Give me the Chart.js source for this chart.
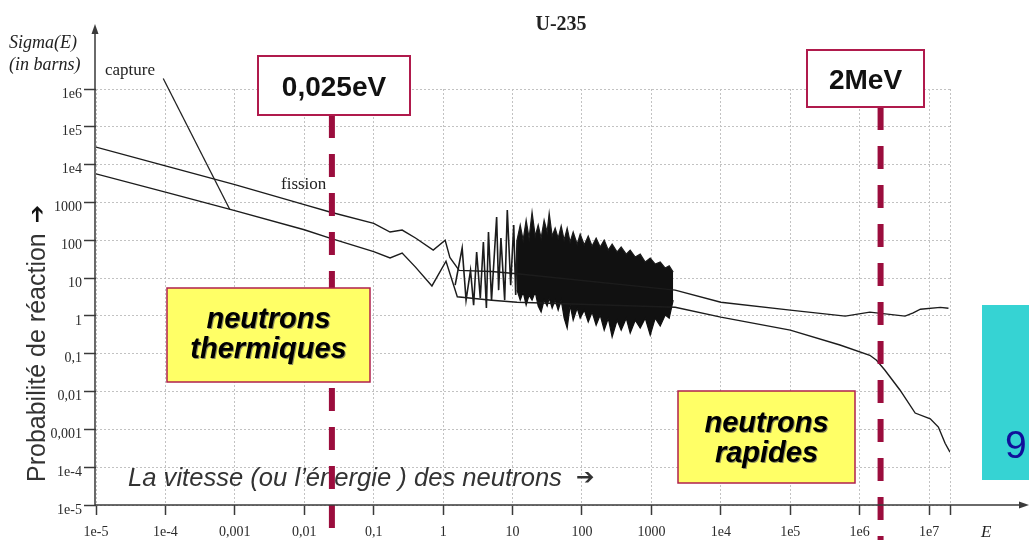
<!DOCTYPE html>
<html>
<head>
<meta charset="utf-8">
<title>U-235</title>
<script src="https://cdn.jsdelivr.net/npm/chart.js@4.4.1/dist/chart.umd.min.js"></script>
<style>
  html, body { margin: 0; padding: 0; background: #fff; }
</style>
</head>
<body>
<canvas id="myChart" width="1029" height="548"></canvas>
<script>
// axes (energy in eV, cross section in barns)
var xTickValues = [1e-5, 1e-4, 1e-3, 1e-2, 1e-1, 1, 10, 100, 1000, 1e4, 1e5, 1e6, 1e7, 2e7];
var xTickLabels = ['1e-5', '1e-4', '0,001', '0,01', '0,1', '1', '10', '100', '1000', '1e4', '1e5', '1e6', '1e7', ''];
var yTickValues = [1e-5, 1e-4, 1e-3, 1e-2, 1e-1, 1, 10, 100, 1000, 1e4, 1e5, 1e6];
var yTickLabels = ['1e-5', '1e-4', '0,001', '0,01', '0,1', '1', '10', '100', '1000', '1e4', '1e5', '1e6'];

// fission (upper curve)
var fissionE = [1e-5, 1e-4, 1e-3, 0.01, 0.0234, 0.1, 0.172, 0.257, 0.4, 0.72, 1.07, 1.25, 1.7, 5, 11.6,
                2200, 1e4, 1e5, 6.2e5, 1.4e6, 4.5e6, 5.9e6, 7.5e6, 1.45e7, 1.9e7];
var fissionS = [29000, 9300, 2950, 880, 560, 280, 165, 186, 115, 55, 100, 35, 16, 15, 13,
                4.8, 2.3, 1.42, 0.99, 1.26, 0.99, 1.2, 1.5, 1.68, 1.6];

// capture (lower curve)
var captureE = [1e-5, 1e-4, 1e-3, 0.01, 0.0234, 0.1, 0.172, 0.257, 0.4, 0.69, 1.1, 1.6, 5, 11.6,
                2200, 1e4, 1e5, 5.2e5, 1.4e6, 1.75e6, 2.3e6, 3.8e6, 6.3e6, 1.04e7, 1.36e7, 1.7e7, 2e7];
var captureS = [5700, 1880, 610, 190, 114, 50, 34, 46, 19.5, 6.2, 28, 3.2, 2.6, 2.3,
                1.7, 0.93, 0.42, 0.17, 0.091, 0.067, 0.037, 0.011, 0.0027, 0.0019, 0.00115, 0.00043, 0.00025];

// isolated resonances 1.5 - 12 eV
var resonE = [1.49, 1.88, 2.14, 2.48, 2.75, 3.04, 3.43, 3.8, 4.2, 4.5, 4.98, 5.9, 6.3, 6.8, 7.7, 8.4, 9.4, 10.4, 11.1, 11.6];
var resonS = [6.5, 62, 2.62, 16, 1.93, 49, 2.96, 90, 1.61, 165, 2.62, 411, 4.8, 114, 2.62, 630, 6.5, 252, 3.55, 101];

// unresolved resonance band 12 eV - 2 keV (upper and lower edge)
var bandE = [11.6, 12.9, 14.2, 15.7, 17.3, 19.1, 21.2, 23.4, 25.8, 28.5, 31.5, 33.7, 37.2, 41.1, 45.4, 50.2,
             55.4, 61.2, 67.6, 74.7, 85.3, 94.2, 108, 123, 140, 160, 183, 209, 239, 272, 321, 367, 434,
             495, 585, 690, 815, 962, 1136, 1340, 1582, 1805, 2060];
var bandTop = [101, 252, 101, 342, 114, 557, 129, 252, 114, 342, 165, 524, 129, 210, 114, 238,
               101, 210, 90, 165, 79, 146, 75, 129, 70, 114, 66, 101, 55, 79, 49, 66, 43,
               55, 36, 43, 26.5, 34, 23.5, 26.5, 18.4, 21, 14.4];
var bandBottom = [4.8, 2.62, 4.3, 1.93, 3.55, 2.62, 4.3, 1.82, 1.26, 2.62, 1.82, 2.96, 1.61, 2.62, 1.42, 2.62,
                  0.87, 0.475, 1.93, 0.77, 1.61, 0.87, 1.42, 0.69, 1.26, 0.57, 1.05, 0.42, 0.87, 0.275, 0.77, 0.42, 0.87,
                  0.35, 0.77, 0.475, 0.87, 0.31, 0.87, 0.54, 1.05, 0.87, 2.62];

// marked energies
var markerE = [0.025, 2e6];
var markerLabels = ['0,025eV', '2MeV'];

// leader line from the "capture" label
var leaderE = [9.3e-5, 8.5e-4];
var leaderS = [1.9e6, 640];

var CRIMSON = '#9b0d3d';
var SERIF = '"Liberation Serif", "DejaVu Serif", serif';
var SANS = '"Liberation Sans", Arial, sans-serif';

function pts(xs, ys) {
    return xs.map(function(x, i) { return {x: x, y: ys[i]}; });
}

function box(ctx, x, y, w, h, fill, stroke, lw) {
    ctx.fillStyle = fill;
    ctx.fillRect(x, y, w, h);
    ctx.strokeStyle = stroke;
    ctx.lineWidth = lw;
    ctx.strokeRect(x, y, w, h);
}

var annotate = {
    id: 'annotate',
    afterDatasetsDraw: function(chart) {
        var ctx = chart.ctx;
        var xs = chart.scales.x, ys = chart.scales.y;
        ctx.save();

        // leader line for capture
        ctx.strokeStyle = '#222';
        ctx.lineWidth = 1.3;
        ctx.beginPath();
        ctx.moveTo(xs.getPixelForValue(leaderE[0]), ys.getPixelForValue(leaderS[0]));
        ctx.lineTo(xs.getPixelForValue(leaderE[1]), ys.getPixelForValue(leaderS[1]));
        ctx.stroke();

        // texts of the original plot
        ctx.fillStyle = '#222';
        ctx.textBaseline = 'alphabetic';
        ctx.textAlign = 'center';
        ctx.font = 'bold 20px ' + SERIF;
        ctx.fillText('U-235', 561, 30);
        ctx.textAlign = 'left';
        ctx.font = 'italic 18px ' + SERIF;
        ctx.fillText('Sigma(E)', 9, 48);
        ctx.fillText('(in barns)', 9, 70);
        ctx.font = 'italic 17px ' + SERIF;
        ctx.fillText('E', 981, 537);
        ctx.font = '17px ' + SERIF;
        ctx.fillText('capture', 105, 75);
        ctx.fillText('fission', 281, 189);

        // axis captions
        ctx.fillStyle = '#333';
        ctx.font = 'italic 25.6px ' + SANS;
        ctx.fillText('La vitesse (ou l\u2019\u00e9nergie ) des neutrons', 128, 486);
        ctx.font = 'bold 22px "DejaVu Sans"';
        ctx.fillText('\u2794', 576, 484);

        ctx.save();
        ctx.translate(45, 482);
        ctx.rotate(-Math.PI / 2);
        ctx.font = '25px ' + SANS;
        ctx.fillText('Probabilit\u00e9 de r\u00e9action', 0, 0);
        var w = ctx.measureText('Probabilit\u00e9 de r\u00e9action').width;
        ctx.fillStyle = '#111';
        ctx.font = 'bold 22px "DejaVu Sans"';
        ctx.fillText('\u2794', w + 10, -1);
        ctx.restore();

        // dashed markers with their boxes
        var boxes = [[258, 56, 152, 59], [807, 50, 117, 57]];
        markerE.forEach(function(e, i) {
            var px = xs.getPixelForValue(e);
            var b = boxes[i];
            ctx.strokeStyle = CRIMSON;
            ctx.lineWidth = 6;
            ctx.setLineDash([23, 16]);
            ctx.beginPath();
            ctx.moveTo(px, b[1] + b[3]);
            ctx.lineTo(px, 540);
            ctx.stroke();
            ctx.setLineDash([]);
            box(ctx, b[0], b[1], b[2], b[3], '#fff', '#b01a4c', 2);
            ctx.fillStyle = '#111';
            ctx.font = 'bold 28px ' + SANS;
            ctx.textAlign = 'center';
            ctx.fillText(markerLabels[i], b[0] + b[2] / 2, b[1] + b[3] / 2 + 10);
        });

        // yellow notes
        var notes = [
            {x: 167, y: 288, w: 203, h: 94, lines: ['neutrons', 'thermiques'], base: 328},
            {x: 678, y: 391, w: 177, h: 92, lines: ['neutrons', 'rapides'], base: 432}
        ];
        notes.forEach(function(n) {
            box(ctx, n.x, n.y, n.w, n.h, '#ffff66', '#b0204c', 1.5);
            ctx.font = 'bold italic 29px ' + SANS;
            ctx.textAlign = 'center';
            n.lines.forEach(function(t, j) {
                ctx.fillStyle = 'rgba(0,0,90,0.45)';
                ctx.fillText(t, n.x + n.w / 2 + 1, n.base + j * 30 + 1);
                ctx.fillStyle = '#000';
                ctx.fillText(t, n.x + n.w / 2, n.base + j * 30);
            });
        });

        // slide number tab
        ctx.fillStyle = '#36d3d3';
        ctx.fillRect(982, 305, 47, 175);
        ctx.fillStyle = '#10109a';
        ctx.font = '39px ' + SANS;
        ctx.textAlign = 'left';
        ctx.fillText('9', 1005, 458);

        ctx.restore();
    },
    afterDraw: function(chart) {
        var ctx = chart.ctx, a = chart.chartArea;
        ctx.save();
        ctx.strokeStyle = '#3a3a3a';
        ctx.fillStyle = '#3a3a3a';
        ctx.lineWidth = 1.5;
        ctx.beginPath();
        ctx.moveTo(a.left - 1, a.bottom);
        ctx.lineTo(a.left - 1, 28);
        ctx.moveTo(a.left - 1, a.bottom);
        ctx.lineTo(1024, a.bottom);
        ctx.stroke();
        ctx.beginPath();
        ctx.moveTo(a.left - 1, 24);
        ctx.lineTo(a.left - 4.5, 34);
        ctx.lineTo(a.left + 2.5, 34);
        ctx.closePath();
        ctx.fill();
        ctx.beginPath();
        ctx.moveTo(1029, a.bottom);
        ctx.lineTo(1019, a.bottom - 3.5);
        ctx.lineTo(1019, a.bottom + 3.5);
        ctx.closePath();
        ctx.fill();
        ctx.restore();
    }
};

var lineStyle = { borderColor: '#1c1c1c', pointRadius: 0, tension: 0, fill: false };

var data = {
    datasets: [
        Object.assign({ label: 'fission', data: pts(fissionE, fissionS), borderWidth: 1.4 }, lineStyle),
        Object.assign({ label: 'capture', data: pts(captureE, captureS), borderWidth: 1.4 }, lineStyle),
        Object.assign({ label: 'resonances', data: pts(resonE, resonS), borderWidth: 1.6 }, lineStyle),
        Object.assign({ label: 'band top', data: pts(bandE, bandTop), borderWidth: 1.2 }, lineStyle),
        {
            label: 'band bottom',
            data: pts(bandE, bandBottom),
            borderColor: '#111',
            borderWidth: 1.2,
            backgroundColor: '#111',
            pointRadius: 0,
            tension: 0,
            fill: '-1'
        }
    ]
};

var tickFont = { family: SERIF, size: 14 };

var config = {
    type: 'line',
    data: data,
    options: {
        responsive: false,
        animation: false,
        devicePixelRatio: 1,
        layout: { padding: { top: 89, right: 79, left: 0, bottom: 0 } },
        plugins: {
            legend: { display: false },
            tooltip: { enabled: false },
            title: { display: false }
        },
        scales: {
            x: {
                type: 'logarithmic',
                min: 1e-5,
                max: 2e7,
                afterBuildTicks: function(axis) {
                    axis.ticks = xTickValues.map(function(v) { return {value: v}; });
                },
                afterFit: function(axis) { axis.height = 43; },
                ticks: {
                    autoSkip: false,
                    maxRotation: 0,
                    padding: 9,
                    color: '#2a2a2a',
                    font: tickFont,
                    callback: function(v, i) { return xTickLabels[i]; }
                },
                grid: { color: '#c2c2c2', lineWidth: 1, tickLength: 10, tickColor: '#3a3a3a', tickWidth: 1.5 },
                border: { display: false, dash: [2, 2] }
            },
            y: {
                type: 'logarithmic',
                min: 1e-5,
                max: 1e6,
                afterBuildTicks: function(axis) {
                    axis.ticks = yTickValues.map(function(v) { return {value: v}; });
                },
                afterFit: function(axis) { axis.width = 96; },
                ticks: {
                    autoSkip: false,
                    padding: 2,
                    labelOffset: 5,
                    color: '#2a2a2a',
                    font: tickFont,
                    callback: function(v, i) { return yTickLabels[i]; }
                },
                grid: { color: '#c2c2c2', lineWidth: 1, tickLength: 12, tickColor: '#3a3a3a', tickWidth: 1.5 },
                border: { display: false, dash: [2, 2] }
            }
        }
    },
    plugins: [annotate]
};

var myChart = new Chart(document.getElementById('myChart'), config);
</script>
</body>
</html>
